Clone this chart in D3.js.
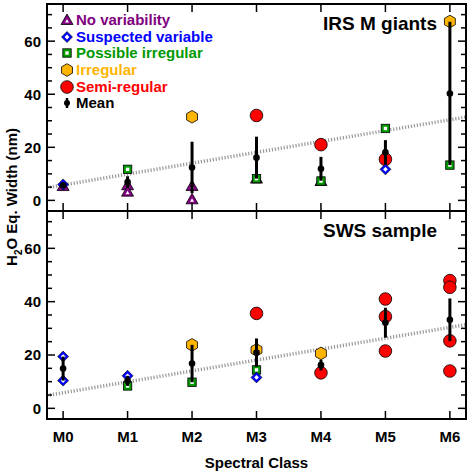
<!DOCTYPE html>
<html><head><meta charset="utf-8">
<script src="https://cdn.jsdelivr.net/npm/d3@7"></script>
<style>
body{margin:0;background:#fff}
text{font-family:"Liberation Sans",Arial,sans-serif;font-weight:bold}
</style></head>
<body><svg id="c" width="471" height="471"></svg>
<script>
const classes = ["M0","M1","M2","M3","M4","M5","M6"];
const yTicks = [0,20,40,60];
const legendLabels = ["No variability","Suspected variable","Possible irregular","Irregular","Semi-regular","Mean"];
const trendX = [-0.25, 6.25];
const trendY = [4.8, 31.4];

// IRS M giants (class index, value)
const irsNoVar     = [[0,5.4],[1,5.7],[1,3.3],[2,5.4],[2,0.4],[3,8.2],[4,7.3]];
const irsSuspected = [[0,6.0],[5,11.7]];
const irsPossible  = [[1,11.7],[3,8.2],[4,7.3],[5,27.1],[6,13.3]];
const irsIrregular = [[2,31.5],[6,67.4]];
const irsSemiReg   = [[3,32.0],[4,21.0],[5,15.5]];
const irsMean      = [5.7, 6.9, 12.4, 16.1, 11.9, 18.1, 40.3];
const irsErr       = [0.3, 2.2, 9.7, 7.9, 4.5, 4.6, 27.0];

// SWS sample
const swsNoVar     = [];
const swsSuspected = [[0,19.4],[0,10.4],[1,12.2],[3,11.6]];
const swsPossible  = [[1,8.4],[2,9.8],[3,14.4]];
const swsIrregular = [[2,23.8],[3,21.9],[4,20.6]];
const swsSemiReg   = [[3,35.6],[4,13.3],[5,41.0],[5,34.4],[5,21.5],[6,47.9],[6,45.4],[6,25.3],[6,14.0]];
const swsMean      = [14.9, 10.3, 16.8, 20.9, 16.2, 32.1, 33.2];
const swsErr       = [4.5, 1.9, 7.0, 5.3, 2.0, 5.6, 8.0];

const colors = {noVar:"#800080", susp:"#0000ff", poss:"#009900", irr:"#ffb400", semi:"#ff0000", mean:"#000000"};

const svg = d3.select("#c");
const L = 47, R = 466;
const x = d3.scaleLinear().domain([-0.25, 6.25]).range([L, R]);

function drawMarker(g, type, cx, cy){
  if(type==="noVar"){
    const s=6;
    g.append("path").attr("d",`M${cx},${cy-s} L${cx+s*1.0},${cy+s*0.75} L${cx-s*1.0},${cy+s*0.75}Z`)
      .attr("fill",colors.noVar).attr("stroke","#000").attr("stroke-width",0.8);
    const t=2;
    g.append("path").attr("d",`M${cx},${cy-t+1} L${cx+t},${cy+t*0.75+1} L${cx-t},${cy+t*0.75+1}Z`).attr("fill","#fff");
  } else if(type==="susp"){
    const s=5.5;
    g.append("path").attr("d",`M${cx},${cy-s} L${cx+s},${cy} L${cx},${cy+s} L${cx-s},${cy}Z`)
      .attr("fill",colors.susp).attr("stroke","#000").attr("stroke-width",0.6);
    const t=2.4;
    g.append("path").attr("d",`M${cx},${cy-t} L${cx+t},${cy} L${cx},${cy+t} L${cx-t},${cy}Z`).attr("fill","#fff");
  } else if(type==="poss"){
    const s=4.2;
    g.append("rect").attr("x",cx-s).attr("y",cy-s).attr("width",2*s).attr("height",2*s)
      .attr("fill",colors.poss).attr("stroke","#000").attr("stroke-width",0.8);
    g.append("rect").attr("x",cx-1.7).attr("y",cy-1.7).attr("width",3.4).attr("height",3.4).attr("fill","#fff");
  } else if(type==="irr"){
    const r=6.3;
    const pts=d3.range(6).map(i=>{const a=Math.PI/6+i*Math.PI/3;return [cx+r*Math.cos(a),cy+r*Math.sin(a)];});
    g.append("path").attr("d","M"+pts.map(p=>p.join(",")).join("L")+"Z")
      .attr("fill",colors.irr).attr("stroke","#000").attr("stroke-width",0.8);
  } else if(type==="semi"){
    g.append("circle").attr("cx",cx).attr("cy",cy).attr("r",6.3)
      .attr("fill",colors.semi).attr("stroke","#000").attr("stroke-width",0.8);
  }
}

function panel(top, bottom, title, sets, means, errs){
  const y = d3.scaleLinear().domain([-4, 74]).range([bottom, top]);
  const g = svg.append("g");
  // trend line
  g.append("line").attr("x1",x(trendX[0])).attr("x2",x(trendX[1]))
    .attr("y1",y(trendY[0])).attr("y2",y(trendY[1]))
    .attr("stroke","#999").attr("stroke-width",3.5).attr("stroke-dasharray","1.2,1.8");
  // markers
  sets.forEach(([type,data])=>{
    data.forEach(([c,v])=>drawMarker(g,type,x(c),y(v)));
  });
  // means
  means.forEach((m,i)=>{
    g.append("line").attr("x1",x(i)).attr("x2",x(i)).attr("y1",y(m-errs[i])).attr("y2",y(m+errs[i]))
      .attr("stroke","#000").attr("stroke-width",3);
    g.append("circle").attr("cx",x(i)).attr("cy",y(m)).attr("r",3.3).attr("fill","#000");
  });
  // frame
  g.append("rect").attr("x",L).attr("y",top).attr("width",R-L).attr("height",bottom-top)
    .attr("fill","none").attr("stroke","#000").attr("stroke-width",2);
  // y ticks
  d3.range(0,75,5).forEach(v=>{
    const len = v%20===0 ? 8 : 5;
    g.append("line").attr("x1",L).attr("x2",L+len).attr("y1",y(v)).attr("y2",y(v)).attr("stroke","#000").attr("stroke-width",1.5);
    g.append("line").attr("x1",R).attr("x2",R-len).attr("y1",y(v)).attr("y2",y(v)).attr("stroke","#000").attr("stroke-width",1.5);
  });
  yTicks.forEach(v=>{
    g.append("text").attr("x",41).attr("y",y(v)).attr("dy","0.36em").attr("text-anchor","end")
      .attr("font-size",15).text(v);
  });
  // x ticks
  classes.forEach((c,i)=>{
    g.append("line").attr("x1",x(i)).attr("x2",x(i)).attr("y1",bottom).attr("y2",bottom-8).attr("stroke","#000").attr("stroke-width",1.5);
    g.append("line").attr("x1",x(i)).attr("x2",x(i)).attr("y1",top).attr("y2",top+8).attr("stroke","#000").attr("stroke-width",1.5);
  });
  g.append("text").attr("x",437).attr("y",top+19).attr("dy","0.36em").attr("text-anchor","end")
    .attr("font-size",19).text(title);
  return y;
}

panel(4, 211, "IRS M giants",
  [["noVar",irsNoVar],["semi",irsSemiReg],["irr",irsIrregular],["poss",irsPossible],["susp",irsSuspected]],
  irsMean, irsErr);
panel(211, 419, "SWS sample",
  [["noVar",swsNoVar],["semi",swsSemiReg],["irr",swsIrregular],["poss",swsPossible],["susp",swsSuspected]],
  swsMean, swsErr);

// x tick labels
classes.forEach((c,i)=>{
  svg.append("text").attr("x",x(i)).attr("y",437).attr("dy","0.36em").attr("text-anchor","middle")
    .attr("font-size",15).text(c);
});
svg.append("text").attr("x",(L+R)/2).attr("y",463).attr("dy","0.36em").attr("text-anchor","middle")
  .attr("font-size",15).text("Spectral Class");
// y label
const yl = svg.append("text").attr("transform","translate(12,197) rotate(-90)").attr("text-anchor","middle")
  .attr("dy","0.36em").attr("font-size",15);
yl.append("tspan").text("H");
yl.append("tspan").attr("font-size",10).attr("dy","0.45em").text("2");
yl.append("tspan").attr("dy","-0.3em").text("O Eq. Width (nm)");

// legend
const legTypes = ["noVar","susp","poss","irr","semi","mean"];
const legY = [20,37,53,70,87,103];
legTypes.forEach((t,i)=>{
  const cy = legY[i], cx = 67;
  if(t==="mean"){
    svg.append("line").attr("x1",cx).attr("x2",cx).attr("y1",cy-5).attr("y2",cy+5).attr("stroke","#000").attr("stroke-width",2.5);
    svg.append("circle").attr("cx",cx).attr("cy",cy).attr("r",3).attr("fill","#000");
  } else drawMarker(svg,t,cx,cy);
  svg.append("text").attr("x",76).attr("y",cy).attr("dy","0.36em").attr("font-size",15)
    .attr("fill",colors[t]).text(legendLabels[i]);
});
</script></body></html>
